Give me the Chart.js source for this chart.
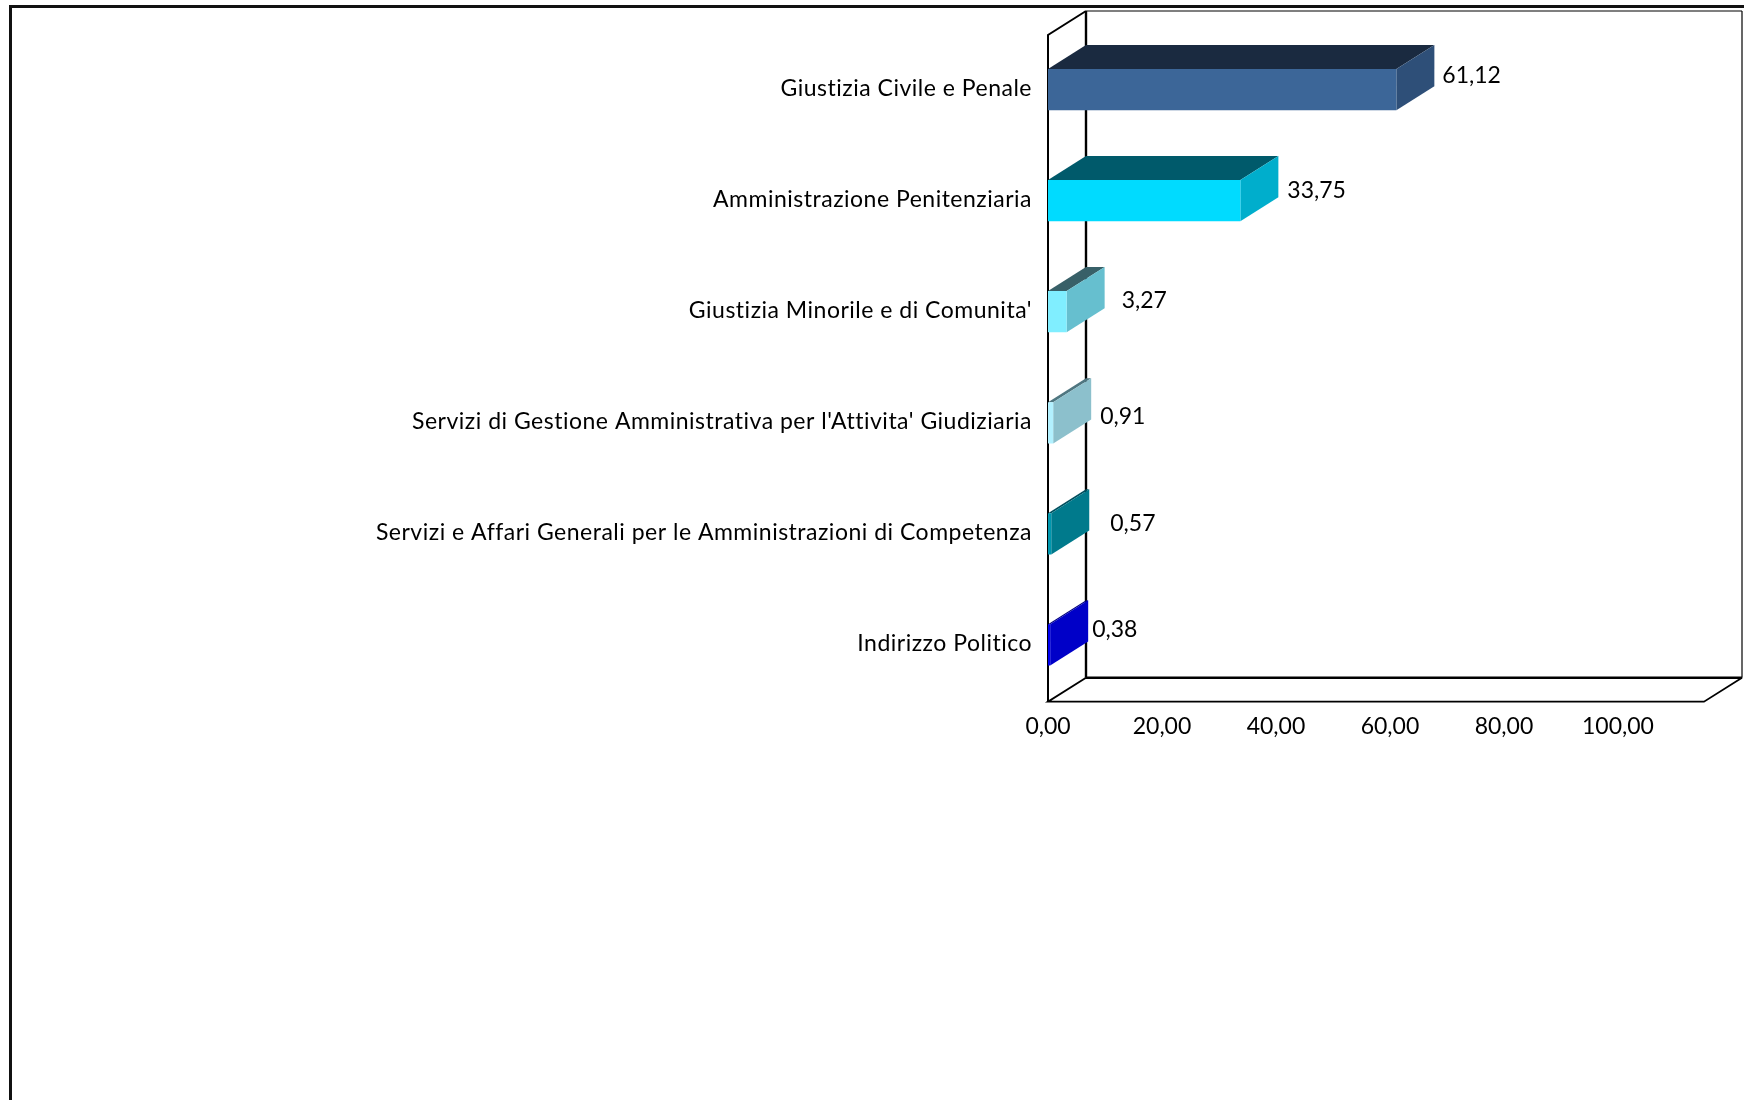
<!DOCTYPE html>
<html>
<head>
<meta charset="utf-8">
<style>
html,body{margin:0;padding:0;background:#fff;width:1744px;height:1100px;overflow:hidden}
#frame{position:absolute;left:9px;top:5px;width:1800px;height:1200px;border:3px solid #111;box-sizing:border-box}
canvas{position:absolute;left:0;top:0}
</style>
</head>
<body>
<div id="frame"></div>
<canvas id="c" width="1744" height="1100"></canvas>
<script src="https://cdn.jsdelivr.net/npm/chart.js@4"></script>
<script>
const categories = [
  "Giustizia Civile e Penale",
  "Amministrazione Penitenziaria",
  "Giustizia Minorile e di Comunita'",
  "Servizi di Gestione Amministrativa per l'Attivita' Giudiziaria",
  "Servizi e Affari Generali per le Amministrazioni di Competenza",
  "Indirizzo Politico"
];
const values = [61.12, 33.75, 3.27, 0.91, 0.57, 0.38];
const frontColors = ["#3C6698", "#00DBFF", "#80EEFF", "#B2F1FF", "#0097AE", "#0000F0"];
const topColors   = ["#1A2A40", "#005A6B", "#386068", "#4F7680", "#00505F", "#000080"];
const sideColors  = ["#2E4F78", "#00AECC", "#66BFCF", "#8CC0CC", "#007A8C", "#0000C8"];
const labelGapX = [8, 9, 17, 9, 21, 4];
const labelGapY = [-14, -10, -11, -6, -10, -15];
const axisMax = 115.1;
const tickStep = 20;
const depthX = 38, depthY = 24;
const FONT = "Lato, Carlito, sans-serif";
const FS_CAT = 23;
const FS_NUM = 23;
const CAT_SPACING = '0.5px';

const fmt = v => v.toFixed(2).replace('.', ',');

const box3d = {
  id: 'box3d',
  beforeDraw(chart) {
    const ctx = chart.ctx, y = chart.scales.y;
    if (!y._spaced) {
      const drawLabels = y.drawLabels;
      y.drawLabels = function (area) {
        ctx.letterSpacing = CAT_SPACING;
        drawLabels.call(this, area);
        ctx.letterSpacing = '0px';
      };
      y._spaced = true;
    }
  },
  beforeDatasetsDraw(chart) {
    const {ctx, chartArea: a} = chart;
    const L = a.left, R = a.right, T = a.top + 1, B = a.bottom + 1.2;
    const line = (pts, w) => {
      ctx.beginPath();
      pts.forEach((p, i) => i ? ctx.lineTo(p[0], p[1]) : ctx.moveTo(p[0], p[1]));
      ctx.lineWidth = w; ctx.strokeStyle = '#000'; ctx.stroke();
    };
    ctx.save();
    // back wall
    line([[L + depthX, B - depthY], [L + depthX, T - depthY]], 2.4);
    line([[L + depthX, T - depthY], [R + depthX, T - depthY]], 1.2);
    line([[R + depthX, T - depthY], [R + depthX, B - depthY]], 1.2);
    line([[L + depthX, B - depthY], [R + depthX, B - depthY]], 2.4);
    // side wall
    line([[L, B], [L, T], [L + depthX, T - depthY]], 2);
    // floor
    line([[L + depthX, B - depthY], [L, B], [R, B], [R + depthX, B - depthY]], 1.8);
    // bar top and side faces
    const meta = chart.getDatasetMeta(0);
    meta.data.forEach((bar, i) => {
      const h = bar.height / 2;
      const x0 = bar.base, x1 = bar.x, y0 = bar.y - h, y1 = bar.y + h;
      ctx.fillStyle = topColors[i];
      ctx.beginPath();
      ctx.moveTo(x0, y0); ctx.lineTo(x0 + depthX, y0 - depthY);
      ctx.lineTo(x1 + depthX, y0 - depthY); ctx.lineTo(x1, y0);
      ctx.closePath(); ctx.fill();
      ctx.fillStyle = sideColors[i];
      ctx.beginPath();
      ctx.moveTo(x1, y0); ctx.lineTo(x1 + depthX, y0 - depthY);
      ctx.lineTo(x1 + depthX, y1 - depthY); ctx.lineTo(x1, y1);
      ctx.closePath(); ctx.fill();
    });
    ctx.restore();
  },
  afterDatasetsDraw(chart) {
    const {ctx} = chart;
    const meta = chart.getDatasetMeta(0);
    ctx.save();
    ctx.font = FS_NUM + 'px ' + FONT;
    ctx.fillStyle = '#000';
    ctx.textAlign = 'left';
    ctx.textBaseline = 'middle';
    meta.data.forEach((bar, i) => {
      ctx.fillText(fmt(values[i]), bar.x + depthX + labelGapX[i], bar.y + labelGapY[i]);
    });
    ctx.restore();
  }
};

new Chart(document.getElementById('c'), {
  type: 'bar',
  data: {
    labels: categories,
    datasets: [{
      data: values,
      backgroundColor: frontColors,
      borderWidth: 0,
      categoryPercentage: 1,
      barPercentage: 0.3715
    }]
  },
  options: {
    indexAxis: 'y',
    responsive: false,
    animation: false,
    devicePixelRatio: 1,
    layout: {padding: {left: 0, right: 40, top: 34, bottom: 0}},
    plugins: {legend: {display: false}, tooltip: {enabled: false}, title: {display: false}},
    scales: {
      x: {
        min: 0, max: axisMax,
        grid: {display: false}, border: {display: false},
        ticks: {
          stepSize: tickStep, includeBounds: false, maxRotation: 0, autoSkip: false,
          padding: 4, color: '#000',
          font: {family: FONT, size: FS_NUM},
          callback: v => fmt(v)
        },
        afterFit(s) { s.height = 399.5; }
      },
      y: {
        grid: {display: false}, border: {display: false},
        ticks: {
          padding: 8, color: '#000', autoSkip: false, labelOffset: -1,
          font: {family: FONT, size: FS_CAT}
        },
        afterFit(s) { s.width = 1048; }
      }
    }
  },
  plugins: [box3d]
});
</script>
</body>
</html>
